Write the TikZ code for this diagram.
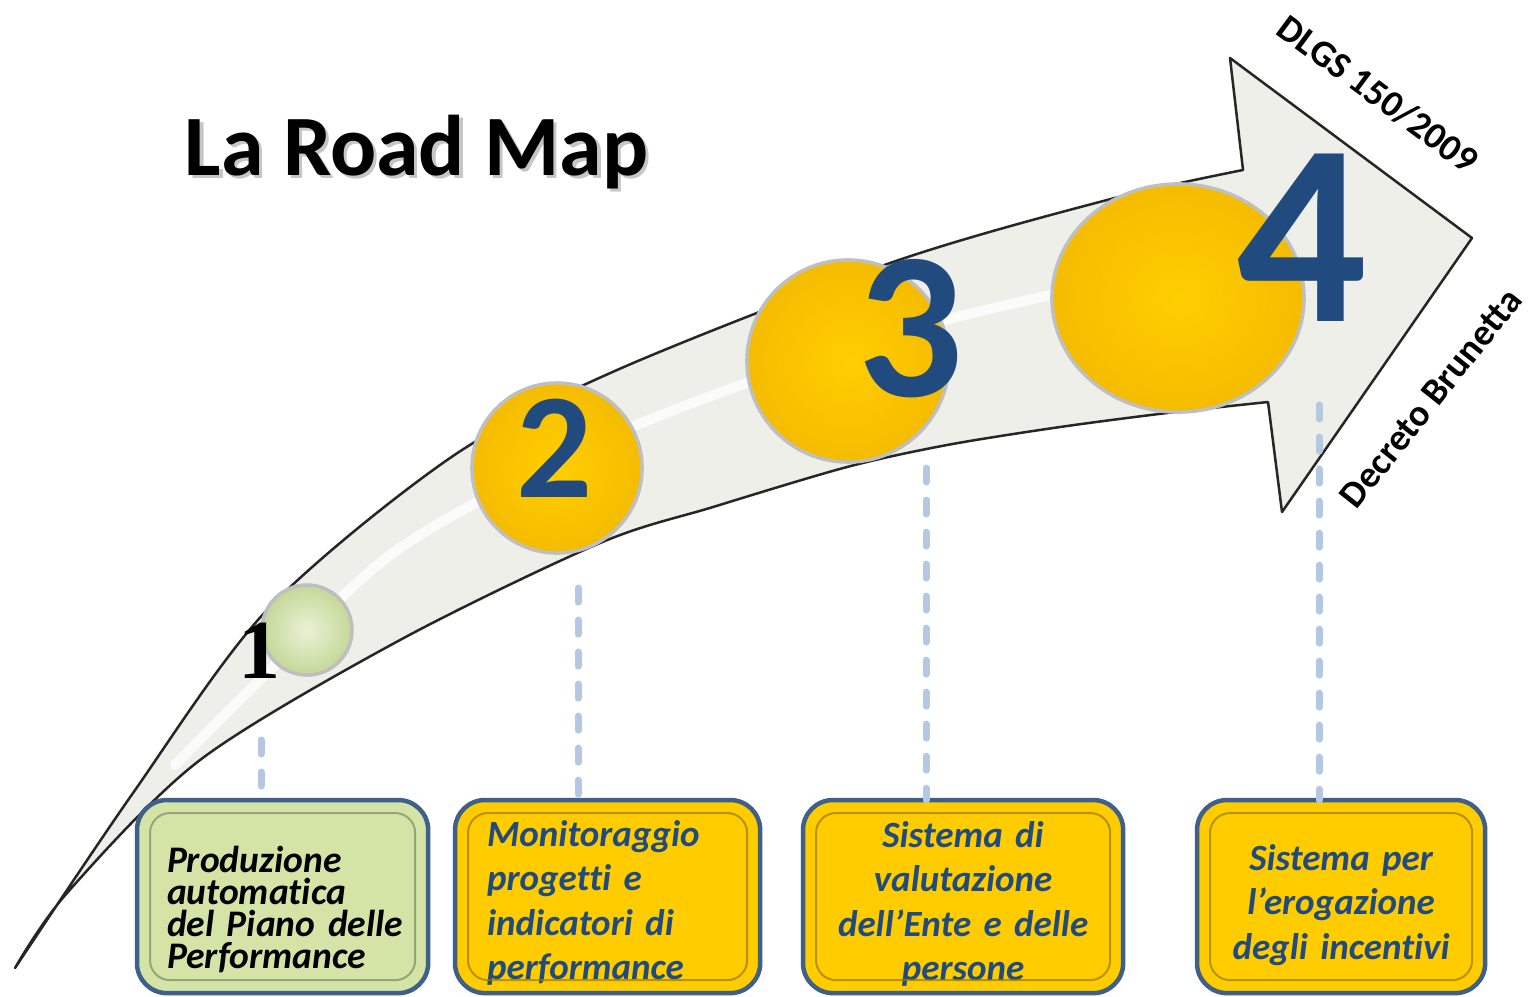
\documentclass[tikz,border=0pt]{standalone}
\usepackage{fontspec}
\setmainfont{Carlito}[Ligatures=CommonOff]
\newfontfamily\onefont{Liberation Serif}
\usetikzlibrary{shapes.geometric}

\definecolor{shaftfill}{HTML}{EEEFE9}
\definecolor{stepgreen}{HTML}{D3E4A6}
\definecolor{stepyellow}{HTML}{FFCC00}
\definecolor{yellowin}{HTML}{FFCE00}
\definecolor{yellowout}{HTML}{F5BC00}
\definecolor{greenin}{HTML}{EAF2D6}
\definecolor{greenout}{HTML}{C4D898}
\definecolor{boxedge}{HTML}{3F6088}
\definecolor{numblue}{HTML}{214A7E}
\definecolor{linkblue}{HTML}{B4C8E4}

\newcommand{\numsize}[1]{\fontsize{#1}{#1}\bfseries\selectfont}
\newcommand{\boxfont}{\fontsize{0.375cm}{0.32cm}\bfseries\itshape\selectfont}
\newcommand{\boxfontwide}{\fontsize{0.37cm}{0.445cm}\bfseries\itshape\selectfont}
\newcommand{\lawfont}{\fontsize{0.375cm}{0.4cm}\bfseries\selectfont}
\newcommand{\shtext}[1]{\makebox[0pt][l]{\kern0.035cm\raisebox{-0.035cm}{\textcolor{gray!45}{#1}}}#1}

\tikzset{
  stepbox/.style={draw=boxedge, line width=0.045cm, rounded corners=0.3cm, anchor=north west,
    outer sep=0pt, inner ysep=0pt, text=numblue, font=\boxfontwide},
  stepdisc/.style={circle, draw=gray!50, line width=0.035cm, inner sep=0pt},
  stepnum/.style={inner sep=0pt, text=numblue},
  link/.style={draw=linkblue, line width=0.07cm, line cap=round, dash pattern=on 0.14cm off 0.18cm},
  bevel/.style={line width=0.02cm, rounded corners=0.2cm, opacity=0.7}
}

\begin{document}
\begin{tikzpicture}[x=0.01cm, y=-0.01cm]
    \useasboundingbox (0,0) rectangle (1531,996);
    \clip (0,0) rectangle (1531,996);
    % curved arrow
    \filldraw[fill=shaftfill, draw=black!85, line width=0.025cm, line join=round]
        plot[smooth] coordinates {(15,968) (133,793) (267,610) (450,458) (617,370) (893,262) (1107,200) (1243,170)}
        -- (1230,58) -- (1472,238) -- (1282,512) -- (1268,402)
        -- plot[smooth] coordinates {(1268,402) (1167,413) (1060,427) (947,445) (847,467) (713,507) (600,543) (400,640) (200,760) (67,893) (15,968)}
        -- cycle;
    \draw[white, line width=0.1cm, line cap=round, opacity=0.8]
        plot[smooth] coordinates {(175,765) (260,680) (400,548) (620,432) (900,332) (1200,262)};
    % stations
    \node[stepdisc, inner color=greenin, outer color=greenout, minimum size=0.9cm] (s1) at (307,630) {};
    \node[stepdisc, inner color=yellowin, outer color=yellowout, minimum size=1.7cm] (s2) at (557,468) {};
    \node[stepdisc, inner color=yellowin, outer color=yellowout, minimum size=2.02cm] (s3) at (848,361) {};
    \node[stepdisc, ellipse, inner color=yellowin, outer color=yellowout, minimum width=2.52cm, minimum height=2.28cm] (s4) at (1178,298) {};
    % numbers
    \node[inner sep=0pt, font={\onefont\numsize{0.84cm}}] (n1) at (260,651) {1};
    \node[stepnum, font={\numsize{1.5cm}}] (n2) at (555,448) {2};
    \node[stepnum, font={\numsize{2.09cm}}] (n3) at (910,329) {3};
    \node[stepnum, font={\numsize{2.58cm}}] (n4) at (1302,238) {4};
    % dashed drops
    \coordinate (t1) at (261,740);
    \coordinate (t2) at (578,588);
    \coordinate (t3) at (926,468);
    \coordinate (t4) at (1319,405);
    % boxes
    \node[stepbox, fill=stepgreen, text=black, font=\boxfont, text width=2.31cm, inner xsep=0.30cm, align=left,
        text height=0.72cm, text depth=1.21cm] (b1) at (137,800)
        {Produzione\\automatica\\\mbox{del Piano delle}\\Performance};
    \node[stepbox, fill=stepyellow, text width=2.41cm, inner xsep=0.32cm, align=left,
        text height=0.46cm, text depth=1.47cm] (b2) at (455,800)
        {Monitoraggio\\progetti e\\indicatori di\\performance};
    \node[stepbox, fill=stepyellow, text width=2.80cm, inner xsep=0.20cm, align=center,
        text height=0.47cm, text depth=1.46cm] (b3) at (803,800)
        {Sistema di\\valutazione\\dell’Ente e delle\\persone};
    \node[stepbox, fill=stepyellow, text width=2.48cm, inner xsep=0.20cm, align=center,
        text height=0.70cm, text depth=1.23cm] (b4) at (1197,800)
        {Sistema per\\l’erogazione\\degli incentivi};
    \foreach \b/\c in {b1/stepgreen, b2/stepyellow, b3/stepyellow, b4/stepyellow}
        \draw[bevel, draw=\c!60!black] ([shift={(13,13)}]\b.north west) rectangle ([shift={(-13,-13)}]\b.south east);
    \foreach \i in {1,...,4}
        \draw[link] (t\i) -- (t\i |- b\i.north);
    % title and law
    \node[anchor=base west, inner sep=0pt, font={\numsize{0.86cm}}] (title) at (184,175) {\shtext{La Road Map}};
    \node[rotate=-36.5, inner sep=0pt, font=\lawfont] (dlgs) at (1378,94) {DLGS 150/2009};
    \node[rotate=51.5, inner sep=0pt, font=\lawfont] (decreto) at (1431,398) {Decreto Brunetta};
\end{tikzpicture}
\end{document}
